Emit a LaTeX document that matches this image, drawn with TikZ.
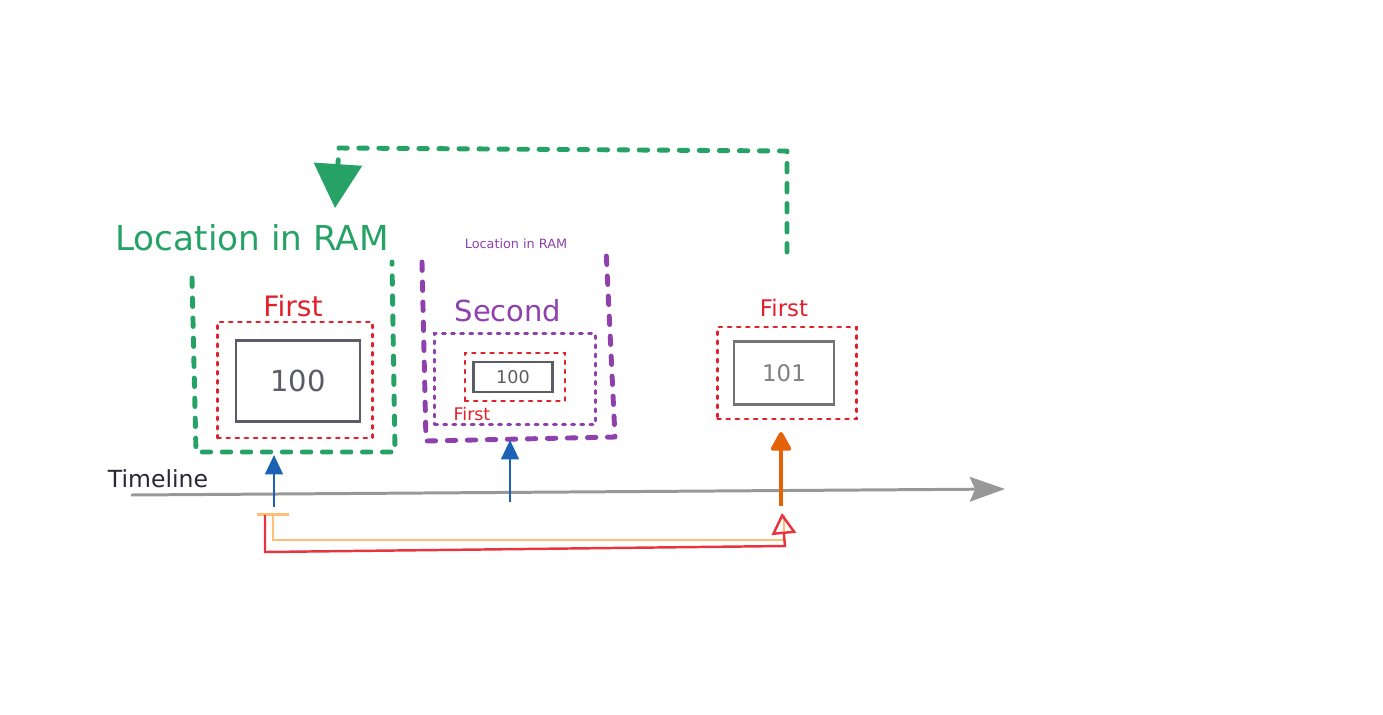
\documentclass[tikz,border=0pt]{standalone}
\usepackage{fontspec}
\setmainfont{DejaVu Sans}
\usepackage{xcolor}
\definecolor{ramgreen}{RGB}{38,162,102}
\definecolor{rampurple}{RGB}{142,64,172}
\definecolor{firstred}{RGB}{226,32,44}
\definecolor{linered}{RGB}{232,52,62}
\definecolor{lightorange}{RGB}{255,190,120}
\definecolor{darkorange}{RGB}{228,98,8}
\definecolor{stepblue}{RGB}{28,98,180}
\definecolor{cellgray}{RGB}{92,92,102}
\definecolor{timegray}{RGB}{152,152,152}
\definecolor{labeldark}{RGB}{40,40,52}
\usetikzlibrary{positioning, calc, arrows.meta}
\tikzstyle{Cell} = [
draw=cellgray, line width=1.4pt, inner sep=0pt, text=cellgray]
\tikzstyle{RedDots} = [
draw=firstred, line width=1.5pt, line cap=round, inner sep=0pt,
dash pattern=on 1.8pt off 3.4pt]
\tikzstyle{PurpleDots} = [
draw=rampurple, line width=1.5pt, line cap=round, inner sep=0pt,
dash pattern=on 1.8pt off 3.4pt]
\tikzstyle{GreenDash} = [
ramgreen, line width=2.8pt, line cap=round, line join=round,
dash pattern=on 4.8pt off 6.6pt]
\tikzstyle{PurpleDash} = [
rampurple, line width=2.8pt, line cap=round, line join=round,
dash pattern=on 4.8pt off 6.6pt]
\tikzstyle{BlueArrow} = [
stepblue, line width=1.6pt, -{Triangle[length=11pt, width=10pt]}]

\begin{document}
\begin{tikzpicture}[x=0.02cm, y=-0.02cm]
    \useasboundingbox (0,0) rectangle (1383,714);

    % first box
    \node[RedDots, minimum width=3.1cm, minimum height=2.32cm] (r1) at (295,380) {};
    \node[Cell, minimum width=2.48cm, minimum height=1.62cm] (c1) at (298,381)
        {\fontsize{16.5}{18}\selectfont 100};
    \node[text=firstred] (f1) at (293,306) {\fontsize{16}{18}\selectfont First};
    \node[text=ramgreen] (loc1) at (252,238) {\fontsize{19.5}{22}\selectfont Location in RAM};

    % second box
    \node[PurpleDots, minimum width=3.22cm, minimum height=1.82cm] (p2) at (515,379) {};
    \node[RedDots, minimum width=2cm, minimum height=0.96cm] (r2) at (515,377) {};
    \node[Cell, minimum width=1.58cm, minimum height=0.6cm] (c2) at (513,377)
        {\fontsize{10}{12}\selectfont 100};
    \node[text=firstred] (f2) at (472,414) {\fontsize{9.9}{12}\selectfont First};
    \node[text=rampurple] (s2) at (508,311) {\fontsize{16.5}{18}\selectfont Second};
    \node[text=rampurple] (loc2) at (516,244) {\fontsize{7.3}{9}\selectfont Location in RAM};

    % third box
    \node[RedDots, minimum width=2.78cm, minimum height=1.84cm] (r3) at (787,373) {};
    \node[Cell, draw=cellgray!85, text=gray, minimum width=2cm, minimum height=1.26cm] (c3) at (784,373)
        {\fontsize{13}{15}\selectfont 101};
    \node[text=firstred] (f3) at (784,308) {\fontsize{13}{15}\selectfont First};

    \node[text=labeldark] (tl) at (158,479) {\fontsize{13.4}{15}\selectfont Timeline};

    \coordinate (ts) at (131,495);
    \coordinate (te) at (1005,489);
    \coordinate (t1) at (274,507);
    \coordinate (t2) at (510,502);
    \coordinate (t3) at (781,506);
    \coordinate (gb) at (274,455);
    \coordinate (pb) at (510,440);
    \coordinate (rb) at (781,432);
    \coordinate (gs) at (787,252);
    \coordinate (gt) at (335,208);

    \draw[GreenDash] (192,278) -- (196,452) -- (395,452) -- (392,262);
    \draw[PurpleDash] (422,262) -- (426,441) -- (615,437) -- (606,248);
    \draw[GreenDash, -{Triangle[length=25pt, width=27pt]}]
        (gs) -- (787,151) -- (339,148) -- (gt);

    \draw[timegray, line width=1.7pt, -{Stealth[length=20pt, width=14pt, inset=3pt]}]
        (ts) -- (te);
    \draw[BlueArrow] (t1) -- (gb);
    \draw[BlueArrow] (t2) -- (pb);
    \draw[darkorange, line width=2.3pt, line join=round,
        -{Triangle[length=12pt, width=12.5pt, round]}] (t3) -- (rb);

    \draw[lightorange, line width=1.6pt, -{Bar[width=18pt]}]
        (784,515) -- (784,540) -- (273,540) -- (273,513);
    \draw[linered, line width=1.4pt, -{Triangle[open, length=12pt, width=14pt]}]
        (265,515) -- (265,552) -- (785,546) -- (782,513);
\end{tikzpicture}
\end{document}
